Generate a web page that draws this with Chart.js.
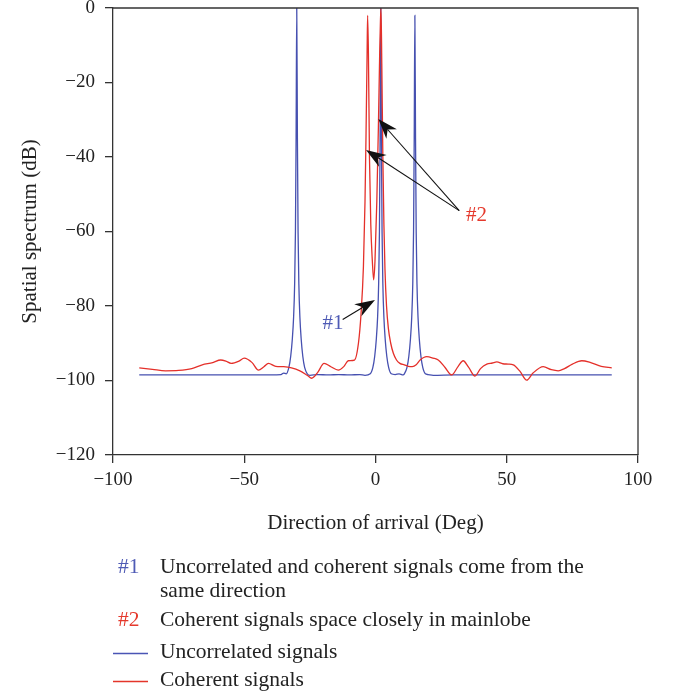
<!DOCTYPE html>
<html>
<head>
<meta charset="utf-8">
<script src="https://cdn.jsdelivr.net/npm/chart.js@4.4.1/dist/chart.umd.min.js"></script>
<style>
  html, body { margin: 0; padding: 0; background: #fff; }
  #myChart { display: block; }
</style>
</head>
<body>
<canvas id="myChart" width="679" height="696"></canvas>
<script>
// axis ticks
const xTicks = [-100, -50, 0, 50, 100];
const yTicks = [0, -20, -40, -60, -80, -100, -120];

// coherent signals (red)
const redDeg = [-90, -85, -80, -75, -70, -66, -62, -59, -57, -55, -52, -50, -47, -44.6, -42.5, -40.8, -38, -35, -32, -28.8,
  -26, -24.3, -22, -19.6, -17, -14.2, -12, -10.4, -8, -6.5, -5.5, -4.6, -4, -3.6, -3.2, -3, -2.7, -2.3, -1.8, -1.2,
  -0.7, -0.2, 0.5, 1.1, 1.6, 1.9, 2.1, 2.4, 2.8, 3.2, 3.6, 4.2, 4.9, 5.8, 6.8, 8, 9.3, 11, 12.5, 14,
  15.5, 17, 19.5, 22, 23.9, 26.5, 29, 31.5, 33.4, 35.5, 37.9, 40, 42.4, 44.5, 46.2, 48.5, 50.5, 52.5, 55, 57.6,
  60, 63.9, 67, 69.6, 72, 75, 78.6, 82, 86, 90];
const redDb = [-96.6, -97.0, -97.4, -97.3, -96.8, -95.8, -95.2, -94.5, -94.8, -95.4, -94.8, -94.0, -95.2, -97.2, -96.3, -95.4, -96.2, -96.3, -96.6, -97.4,
  -98.6, -99.4, -97.8, -95.4, -96.3, -97.2, -96.2, -94.7, -94.5, -90, -82, -69.4, -52, -33.6, -12, -2, -12, -40, -58, -68,
  -73, -68, -52, -32, -12, -3, 0, -15, -40, -58, -70, -80, -86, -90, -92.7, -94.5, -95.4, -95.8, -96.2, -96.3,
  -95.8, -94.5, -93.6, -94.0, -94.5, -96.5, -98.5, -96.2, -94.7, -96.5, -98.8, -96.8, -95.6, -95.3, -95.0, -95.5, -95.6, -95.8, -97.5, -99.9,
  -98, -96.3, -97.1, -97.4, -96.8, -95.6, -94.7, -95.2, -96.2, -96.6];

// uncorrelated signals (blue)
const blueDeg = [-90, -50, -40, -36, -35, -34, -33, -32.3, -31.7, -31.2, -30.8, -30.5, -30.25, -30, -29.75, -29.5, -29.2, -28.8, -28.3, -27.7,
  -27, -26, -25, -22, -18, -14, -10, -6, -4, -2, -1, -0.3, 0.3, 0.8, 1.2, 1.5, 1.75, 2, 2.25, 2.5,
  2.8, 3.2, 3.7, 4.3, 5, 6, 7.5, 9, 10.5, 11, 12, 12.7, 13.3, 13.8, 14.2, 14.5, 14.75, 15, 15.25, 15.5,
  15.8, 16.2, 16.7, 17.3, 18, 19, 20, 22, 30, 50, 90];
const blueDb = [-98.5, -98.5, -98.5, -98.4, -98.0, -98.2, -96.5, -93.5, -89, -83, -74, -60, -35, 0, -35, -60, -74, -83, -89, -93.5,
  -96.5, -98.2, -98.6, -98.4, -98.5, -98.4, -98.5, -98.4, -98.6, -98.2, -96.5, -93.5, -89, -83, -74, -60, -35, 0, -35, -60,
  -74, -83, -89, -93.5, -96.5, -98.2, -98.4, -98.2, -98.5, -98.2, -96.5, -93.5, -89, -83, -74, -60, -35, -2, -35, -60,
  -74, -83, -89, -93.5, -96.5, -98.2, -98.4, -98.6, -98.5, -98.5, -98.5];

// annotations (in data units)
const arrow1 = [[-12.5, -83.6], [-0.2, -78.4]];
const arrows2 = [[[31.9, -54.4], [1.1, -29.8]], [[31.9, -54.4], [-3.6, -38.1]]];
const label1 = { text: '#1', x: -16.2, y: -84.6 };
const label2 = { text: '#2', x: 38.5, y: -55.6 };

const noteLines = [
  { mark: '#1', markColor: '#4f5bb5', text: 'Uncorrelated and coherent signals come from the' },
  { mark: '', markColor: '', text: 'same direction' },
  { mark: '#2', markColor: '#e5392c', text: 'Coherent signals space closely in mainlobe' }
];
const legendItems = [
  { color: '#4a55b5', text: 'Uncorrelated signals' },
  { color: '#e4352a', text: 'Coherent signals' }
];

const serif = '"Liberation Serif", "DejaVu Serif", serif';
const axisColor = '#333';

function drawArrow(ctx, x1, y1, x2, y2) {
  const ang = Math.atan2(y2 - y1, x2 - x1);
  const len = 20, half = 7, notch = 14;
  const c = Math.cos(ang), s = Math.sin(ang);
  ctx.beginPath();
  ctx.moveTo(x1, y1);
  ctx.lineTo(x2 - c * notch, y2 - s * notch);
  ctx.stroke();
  ctx.beginPath();
  ctx.moveTo(x2, y2);
  ctx.lineTo(x2 - c * len + s * half, y2 - s * len - c * half);
  ctx.lineTo(x2 - c * notch, y2 - s * notch);
  ctx.lineTo(x2 - c * len - s * half, y2 - s * len + c * half);
  ctx.closePath();
  ctx.fill();
}

const extras = {
  id: 'extras',
  afterDatasetsDraw(chart) {
    const ctx = chart.ctx;
    const xs = chart.scales.x, ys = chart.scales.y;
    const a = chart.chartArea;
    ctx.save();
    // frame top + right
    ctx.strokeStyle = axisColor;
    ctx.lineWidth = 1.3;
    ctx.beginPath();
    ctx.moveTo(a.left, a.top);
    ctx.lineTo(a.right, a.top);
    ctx.lineTo(a.right, a.bottom);
    ctx.stroke();

    // arrows
    ctx.strokeStyle = '#111';
    ctx.fillStyle = '#111';
    ctx.lineWidth = 1.1;
    const px = p => [xs.getPixelForValue(p[0]), ys.getPixelForValue(p[1])];
    [arrow1].concat(arrows2).forEach(ar => {
      const s = px(ar[0]), e = px(ar[1]);
      drawArrow(ctx, s[0], s[1], e[0], e[1]);
    });

    // arrow labels
    ctx.font = '21px ' + serif;
    ctx.textAlign = 'center';
    ctx.textBaseline = 'middle';
    ctx.fillStyle = '#4f5bb5';
    ctx.fillText(label1.text, xs.getPixelForValue(label1.x), ys.getPixelForValue(label1.y));
    ctx.fillStyle = '#e5392c';
    ctx.fillText(label2.text, xs.getPixelForValue(label2.x), ys.getPixelForValue(label2.y));

    // axis titles
    ctx.fillStyle = '#222';
    ctx.fillText('Direction of arrival (Deg)', (a.left + a.right) / 2, 523);
    ctx.save();
    ctx.translate(30, (a.top + a.bottom) / 2);
    ctx.rotate(-Math.PI / 2);
    ctx.fillText('Spatial spectrum (dB)', 0, 0);
    ctx.restore();

    // notes and legend under the chart
    ctx.font = '21.5px ' + serif;
    ctx.textAlign = 'left';
    ctx.textBaseline = 'alphabetic';
    const noteBase = [573, 597, 626];
    noteLines.forEach((n, i) => {
      if (n.mark) {
        ctx.fillStyle = n.markColor;
        ctx.fillText(n.mark, 118, noteBase[i]);
      }
      ctx.fillStyle = '#222';
      ctx.fillText(n.text, 160, noteBase[i]);
    });
    const legBase = [658, 686];
    legendItems.forEach((l, i) => {
      ctx.strokeStyle = l.color;
      ctx.lineWidth = 1.5;
      ctx.beginPath();
      ctx.moveTo(113, legBase[i] - 4.5);
      ctx.lineTo(148, legBase[i] - 4.5);
      ctx.stroke();
      ctx.fillStyle = '#222';
      ctx.fillText(l.text, 160, legBase[i]);
    });
    ctx.restore();
  }
};

const data = {
  datasets: [{
    label: 'Coherent signals',
    data: redDeg.map((x, i) => ({ x: x, y: redDb[i] })),
    borderColor: '#e4302a',
    borderWidth: 1.3,
    pointRadius: 0,
    cubicInterpolationMode: 'monotone'
  }, {
    label: 'Uncorrelated signals',
    data: blueDeg.map((x, i) => ({ x: x, y: blueDb[i] })),
    borderColor: '#4650b0',
    borderWidth: 1.3,
    pointRadius: 0,
    cubicInterpolationMode: 'monotone'
  }]
};

const tickFont = { family: serif, size: 19 };
const noPad = s => { s.paddingTop = 0; s.paddingBottom = 0; s.paddingLeft = 0; s.paddingRight = 0; };

const config = {
  type: 'line',
  data: data,
  plugins: [extras],
  options: {
    responsive: false,
    animation: false,
    layout: { autoPadding: false, padding: { left: 0, right: 41, top: 8, bottom: 211 } },
    plugins: { legend: { display: false }, tooltip: { enabled: false } },
    scales: {
      x: {
        type: 'linear',
        min: -100,
        max: 100,
        afterBuildTicks: s => { s.ticks = xTicks.map(v => ({ value: v })); },
        afterFit: s => { s.height = 30; noPad(s); },
        grid: { drawOnChartArea: false, tickLength: 8, color: axisColor, lineWidth: 1.3 },
        border: { color: axisColor, width: 1.3 },
        ticks: {
          font: tickFont, color: '#222', padding: 6, maxRotation: 0,
          callback: v => String(v).replace('-', '\u2212')
        }
      },
      y: {
        min: -120,
        max: 0,
        afterBuildTicks: s => { s.ticks = yTicks.map(v => ({ value: v })); },
        afterFit: s => { s.width = 113; noPad(s); },
        grid: { drawOnChartArea: false, tickLength: 8, color: axisColor, lineWidth: 1.3 },
        border: { color: axisColor, width: 1.3 },
        ticks: {
          font: tickFont, color: '#222', padding: 10,
          callback: v => String(v).replace('-', '\u2212')
        }
      }
    }
  }
};

const myChart = new Chart(document.getElementById('myChart'), config);
</script>
</body>
</html>
